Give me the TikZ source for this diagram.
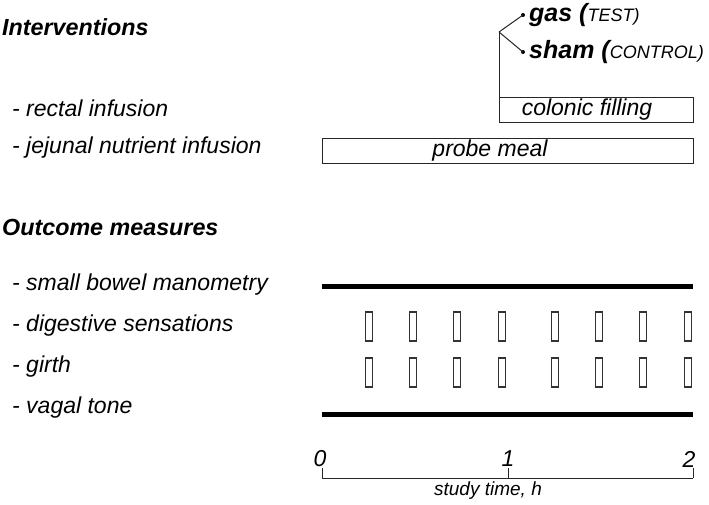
\documentclass[tikz,border=0pt]{standalone}
\usepackage{fontspec}
\setmainfont{Liberation Sans}
\begin{document}
\begin{tikzpicture}[x=1pt,y=-1pt,
  head/.style={anchor=west,inner sep=0,font=\fontsize{23.3}{26}\selectfont\bfseries\itshape},
  lab/.style={anchor=west,inner sep=0,font=\fontsize{23}{26}\selectfont\itshape},
  boxtext/.style={inner sep=0,font=\fontsize{23}{26}\selectfont\itshape},
  bar/.style={draw=black!85,line width=1.2pt,fill=white},
  thick bar/.style={line width=5pt,black},
  sbox/.style={draw=black!80,line width=1.2pt,minimum width=7pt,minimum height=29pt,inner sep=0},
  ticklab/.style={inner sep=0,font=\fontsize{23}{26}\selectfont\itshape},
  dot/.style={circle,fill=black,inner sep=0,minimum size=4pt}]
\useasboundingbox (0,0) rectangle (709,505);
% headings and labels
\node[head] (hint) at (2,27) {Interventions};
\node[lab] (lrect) at (12,108) {- rectal infusion};
\node[lab] (ljej) at (12,148) {- jejunal nutrient infusion};
\node[head] (hout) at (2,227) {Outcome measures};
\node[lab] (lsb) at (12,285) {- small bowel manometry};
\node[lab] (ldig) at (12,326) {- digestive sensations};
\node[lab] (lgir) at (12,367) {- girth};
\node[lab] (lvag) at (12,408) {- vagal tone};
% colonic filling
\node[bar,minimum width=194pt,minimum height=25pt,inner sep=0,anchor=north west] (cf) at (499,97) {};
\node[boxtext] (cft) at (587,110) {colonic filling};
\coordinate (br) at (499,32);
\node[dot] (dg) at (523,15) {};
\node[dot] (ds) at (523,52) {};
\draw[black!85,line width=1pt] (cf.north west) -- (br);
\draw[black!85,line width=1pt] (br) -- (dg.center);
\draw[black!85,line width=1pt] (br) -- (ds.center);
\node[anchor=west,inner sep=0,font=\fontsize{25}{28}\selectfont\itshape] (gas) at (529,15) {\bfseries gas (\mdseries\fontsize{18}{21}\selectfont TEST)};
\node[anchor=west,inner sep=0,font=\fontsize{25}{28}\selectfont\itshape] (sham) at (529,52) {\bfseries sham (\mdseries\fontsize{18}{21}\selectfont CONTROL)};
% probe meal
\node[bar,minimum width=371pt,minimum height=25pt,inner sep=0,anchor=north west] (pm) at (322,138) {};
\node[boxtext] (pmt) at (490,151) {probe meal};
% thick bars
\coordinate (sb0) at (322,286);
\coordinate (sb1) at (693,286);
\draw[thick bar] (sb0) -- (sb1);
\coordinate (vt0) at (322,414);
\coordinate (vt1) at (693,414);
\draw[thick bar] (vt0) -- (vt1);
% small boxes
\foreach \x [count=\i] in {369,413,457,502,555,599,643,688} {
  \node[sbox] (d\i) at (\x,326.5) {};
  \node[sbox] (g\i) at (\x,372.5) {};
}
% axis
\coordinate (a0) at (322,478);
\coordinate (a1) at (508,478);
\coordinate (a2) at (693,478);
\draw[black!85,line width=1pt] (a0) -- (a2);
\draw[black!85,line width=1pt] (a0) -- ++(0,-10);
\draw[black!85,line width=1pt] (a1) -- ++(0,-10);
\draw[black!85,line width=1pt] (a2) -- ++(0,-10);
\node[ticklab] (t0) at (320,459) {0};
\node[ticklab] (t1) at (508,459) {1};
\node[ticklab] (t2) at (689,459) {2};
\node[inner sep=0,font=\fontsize{19}{22}\selectfont\itshape] (st) at (488,491) {study time, h};
\end{tikzpicture}
\end{document}
